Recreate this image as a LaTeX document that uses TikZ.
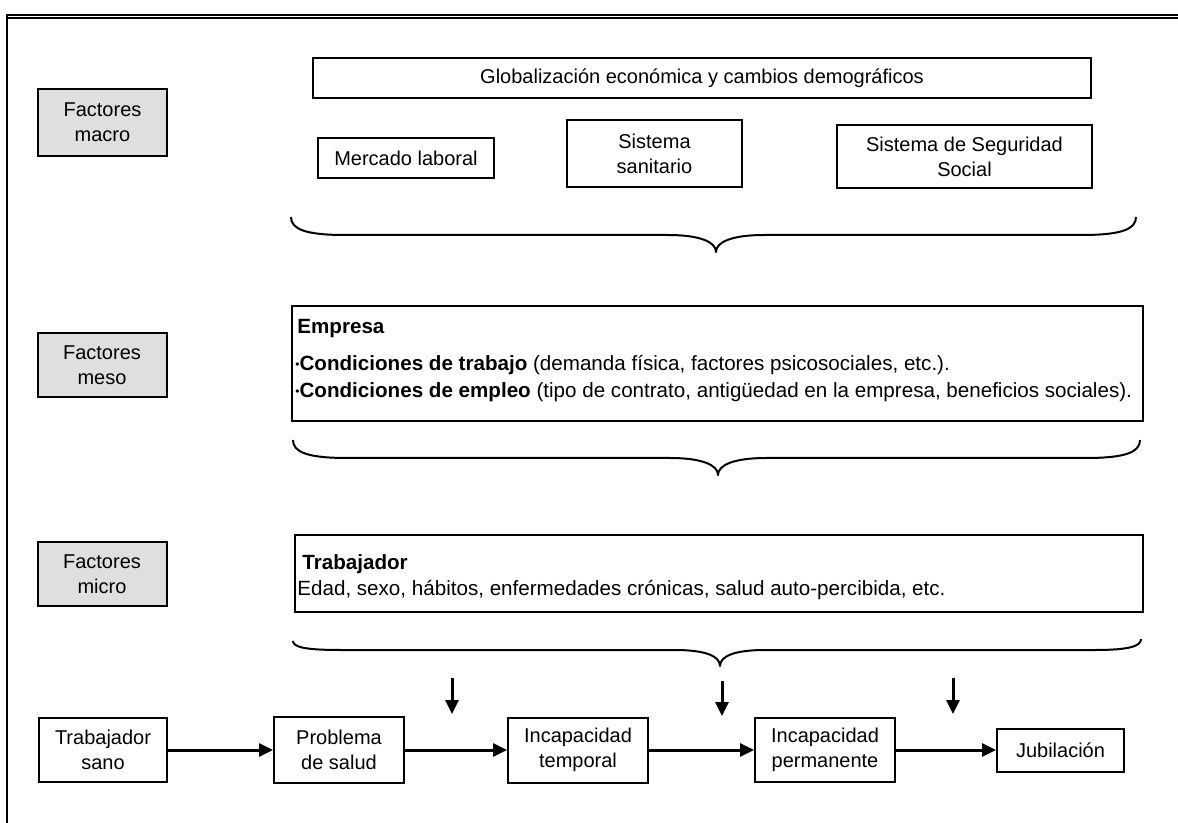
\documentclass[tikz,border=0pt]{standalone}
\usepackage{fontspec}
\setmainfont{Liberation Sans}
\usetikzlibrary{arrows.meta}
\newcommand\smallbullet{\raisebox{1.2pt}{\fontsize{6}{6}\selectfont •}}
\begin{document}
\begin{tikzpicture}[x=0.5pt,y=-0.5pt,
  every node/.style={font=\fontsize{10}{12.5}\selectfont, inner sep=0pt},
  box/.style={draw, line width=1pt, align=center},
  factor/.style={box, fill=gray!25, minimum width=64.5pt},
  boxtext/.style={anchor=base west, font=\fontsize{10.3}{12.5}\selectfont},
  brace/.style={line width=1pt, line join=round},
  arr/.style={line width=1.5pt, -{Triangle[length=7pt,width=6.5pt]}},
  ]
\useasboundingbox (0,0) rectangle (1178,823);

% outer frame
\draw[line width=0.6pt] (7,823) -- (7,15) -- (1178,15);
\draw[line width=0.6pt] (7,18) -- (1178,18);

% level labels
\node[factor, minimum height=33.5pt] (macro) at (102.5,122.5) {Factores\\macro};
\node[factor, minimum height=32pt] (meso) at (102,365) {Factores\\meso};
\node[factor, minimum height=32pt] (micro) at (102,574) {Factores\\micro};

% macro level
\node[box, minimum width=389pt, minimum height=20pt] (glob) at (702,78)
  {Globalización económica y cambios demográficos};
\node[box, minimum width=88pt, minimum height=20pt] (mercado) at (406,158) {Mercado laboral};
\node[box, minimum width=87.5pt, minimum height=33.5pt] (sanitario) at (654.5,153.5) {Sistema\\sanitario};
\node[box, minimum width=127.5pt, minimum height=31.5pt] (segsoc) at (964.5,156.5) {Sistema de Seguridad\\Social};

\draw[brace] (291,217) .. controls (291,229) and (305,235) .. (345,235) -- (668,235)
  .. controls (700,235) and (716,242) .. (716,252)
  .. controls (716,242) and (732,235) .. (764,235) -- (1082,235)
  .. controls (1122,235) and (1136,229) .. (1136,217);

% meso level
\node[box, minimum width=425.5pt, minimum height=57.5pt] (empresa) at (717.5,363.5) {};
\node[boxtext] (empresa-t) at (297,334) {\bfseries Empresa};
\node[boxtext] (empresa-a) at (295,371)
  {\smallbullet\textbf{Condiciones de trabajo} (demanda física, factores psicosociales, etc.).};
\node[boxtext] (empresa-b) at (295,398)
  {\smallbullet\textbf{Condiciones de empleo} (tipo de contrato, antigüedad en la empresa, beneficios sociales).};

\draw[brace] (293,440) .. controls (293,452) and (307,458) .. (347,458) -- (670,458)
  .. controls (702,458) and (718,465) .. (718,475)
  .. controls (718,465) and (734,458) .. (766,458) -- (1086,458)
  .. controls (1126,458) and (1140,452) .. (1140,440);

% micro level
\node[box, minimum width=424pt, minimum height=38.5pt] (trab) at (719,573.5) {};
\node[boxtext] (trab-t) at (302,569) {\bfseries Trabajador};
\node[boxtext] (trab-a) at (297,595)
  {Edad, sexo, hábitos, enfermedades crónicas, salud auto-percibida, etc.};

\draw[brace] (293,641) .. controls (293,647) and (305,650) .. (340,650) -- (675,650)
  .. controls (705,650) and (720,656) .. (720,666)
  .. controls (720,656) and (735,650) .. (765,650) -- (1095,650)
  .. controls (1130,650) and (1141,646) .. (1141,639);

% worker trajectory
\node[box, minimum width=64pt, minimum height=32pt] (sano) at (103,750) {Trabajador\\sano};
\node[box, minimum width=65pt, minimum height=33pt] (problema) at (339,750) {Problema\\de salud};
\node[box, minimum width=70pt, minimum height=32.5pt] (temporal) at (578,750) {Incapacidad\\temporal};
\node[box, minimum width=70pt, minimum height=32pt] (permanente) at (825,750) {Incapacidad\\permanente};
\node[box, minimum width=63.5pt, minimum height=21.5pt] (jubilacion) at (1060.5,750) {Jubilación};

\draw[arr] (sano) -- (problema);
\draw[arr] (problema) -- (temporal);
\draw[arr] (temporal) -- (permanente);
\draw[arr] (permanente) -- (jubilacion);

\coordinate (d1s) at (452,678); \coordinate (d1e) at (452,714);
\coordinate (d2s) at (722,681); \coordinate (d2e) at (722,716);
\coordinate (d3s) at (953,678); \coordinate (d3e) at (953,714);
\draw[arr] (d1s) -- (d1e);
\draw[arr] (d2s) -- (d2e);
\draw[arr] (d3s) -- (d3e);
\end{tikzpicture}
\end{document}
